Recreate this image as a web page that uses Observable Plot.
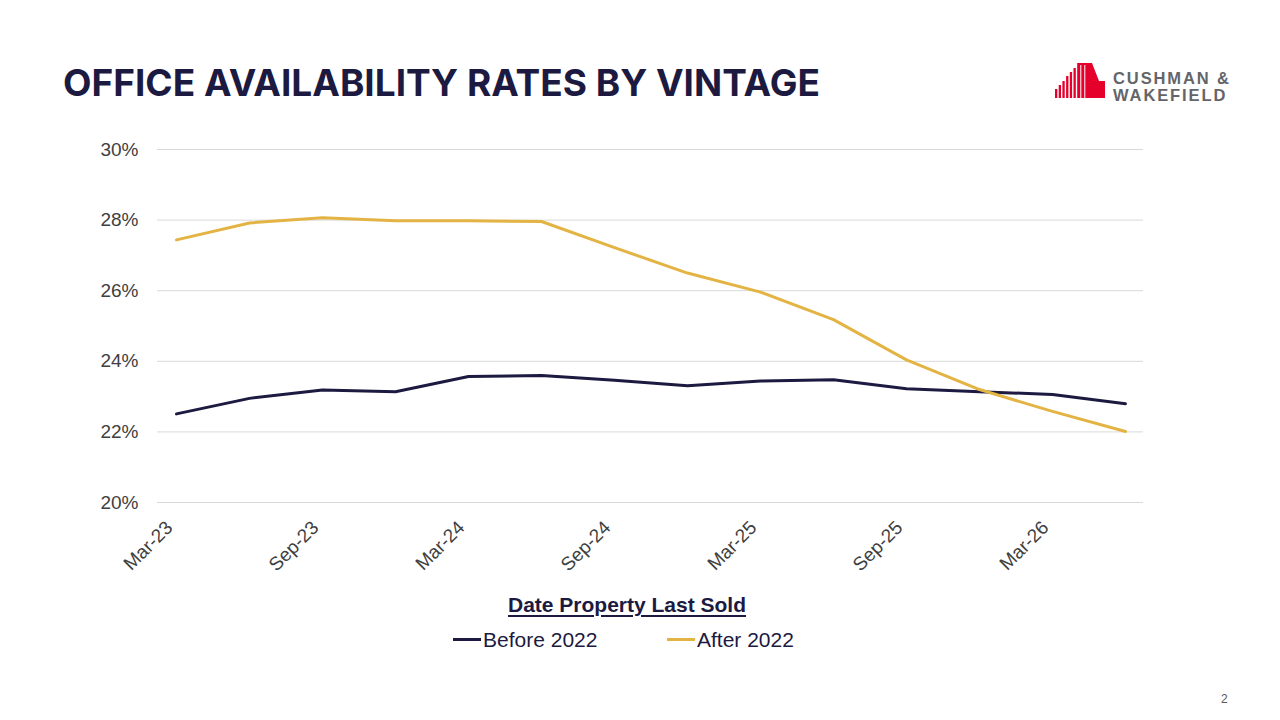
<!DOCTYPE html>
<html>
<head>
<meta charset="utf-8">
<script src="https://cdn.jsdelivr.net/npm/d3@7"></script>
<script src="https://cdn.jsdelivr.net/npm/@observablehq/plot@0.6"></script>
<style>
  html, body { margin: 0; padding: 0; background: #fff; }
  #page { position: relative; width: 1280px; height: 720px; overflow: hidden; font-family: "Liberation Sans", Arial, sans-serif; }
  #title { position: absolute; left: 63px; top: 64px; margin: 0; font-family: Inter, "Open Sans", sans-serif; font-weight: 700; font-size: 37px; letter-spacing: 0px; color: #1c1a40; white-space: nowrap; line-height: 1; }
  #chart { position: absolute; left: 0; top: 0; }
  #logo { position: absolute; left: 1054px; top: 62px; width: 190px; height: 42px; }
  #logo svg { position: absolute; left: 0; top: 0; }
  #logo .name { position: absolute; left: 59px; font-family: "Liberation Sans", Arial, sans-serif; font-weight: 700; font-size: 16.5px; letter-spacing: 1.9px; color: #646569; line-height: 16px; white-space: nowrap; }
  #legendTitle { position: absolute; left: 0; width: 1254px; top: 593px; text-align: center; font-weight: 700; font-size: 21px; color: #1c1a40; text-decoration: underline; text-underline-offset: 3px; line-height: 1.1; }
  .item { position: absolute; top: 629px; font-size: 21px; color: #1c1a40; white-space: nowrap; line-height: 1; }
  .item .sw { display: inline-block; width: 28px; height: 3px; vertical-align: middle; margin-right: 2px; position: relative; top: -2px; }
  #pageNo { position: absolute; left: 1221px; top: 692px; font-size: 12px; color: #595959; }
</style>
</head>
<body>
<div id="page">
  <div id="chart"></div>
  <h1 id="title">OFFICE AVAILABILITY RATES BY VINTAGE</h1>
  <div id="logo">
    <svg width="54" height="40" viewBox="0 0 54 40">
      <g fill="#e4002b">
        <rect x="1" y="27" width="2.3" height="9"></rect>
        <rect x="4.7" y="23" width="2.3" height="13"></rect>
        <rect x="8.4" y="19" width="2.3" height="17"></rect>
        <rect x="12.1" y="14" width="2.3" height="22"></rect>
        <rect x="15.8" y="10" width="2.3" height="26"></rect>
        <rect x="19.5" y="6" width="2.3" height="30"></rect>
        <polygon points="23.2,1 38,1 45,19 51,19 51,36 23.2,36"></polygon>
      </g>
      <g fill="#fff">
        <rect x="26.3" y="3" width="1" height="33"></rect>
        <rect x="30.3" y="3" width="1" height="33"></rect>
      </g>
    </svg>
    <div class="name" style="top:8px">CUSHMAN &amp;</div>
    <div class="name" style="top:25px">WAKEFIELD</div>
  </div>
  <div id="legendTitle">Date Property Last Sold</div>
  <div class="item" style="left:453px"><span class="sw" style="background:#1c1a40"></span>Before 2022</div>
  <div class="item" style="left:667px"><span class="sw" style="background:#e3b443"></span>After 2022</div>
  <div id="pageNo">2</div>
</div>
<script>
// Quarter-end labels along the x axis
const quarters = ["Mar-23", "Jun-23", "Sep-23", "Dec-23", "Mar-24", "Jun-24", "Sep-24",
                  "Dec-24", "Mar-25", "Jun-25", "Sep-25", "Dec-25", "Mar-26", "Jun-26"];
// Every other quarter carries a label
const xTickLabels = ["Mar-23", "Sep-23", "Mar-24", "Sep-24", "Mar-25", "Sep-25", "Mar-26"];
const yTicks = [20, 22, 24, 26, 28, 30];

const seriesNames = ["Before 2022", "After 2022"];
const seriesColors = ["#1c1a40", "#e3b443"];

// Availability rate (%) by date the property last sold
const before2022 = [22.51, 22.95, 23.19, 23.14, 23.57, 23.60, 23.46, 23.31, 23.44, 23.48, 23.22, 23.14, 23.06, 22.80];
const after2022  = [27.44, 27.92, 28.07, 27.98, 27.98, 27.96, 27.22, 26.50, 25.96, 25.18, 24.04, 23.20, 22.58, 22.01];

const rows = [
  ...quarters.map((q, i) => ({quarter: q, value: before2022[i], series: seriesNames[0]})),
  ...quarters.map((q, i) => ({quarter: q, value: after2022[i], series: seriesNames[1]}))
];

const chart = Plot.plot({
  width: 1280,
  height: 600,
  marginTop: 149,
  marginBottom: 98,
  marginLeft: 157,
  marginRight: 137,
  style: {fontFamily: "'Liberation Sans', Arial, sans-serif", fontSize: "19px", color: "#404040", background: "transparent"},
  x: {type: "point", domain: quarters, padding: 0.17, label: null},
  y: {domain: [20, 30], label: null},
  color: {domain: seriesNames, range: seriesColors},
  marks: [
    Plot.gridY(yTicks, {stroke: "#d9d9d9", strokeOpacity: 1, strokeWidth: 1}),
    Plot.axisY(yTicks, {tickSize: 0, tickPadding: 19, tickFormat: d => d + "%", fontSize: 19, fill: "#404040", label: null}),
    Plot.axisX(xTickLabels, {tickSize: 0, tickPadding: 22, tickRotate: -45, fontSize: 19, fill: "#404040", label: null, dx: -7}),
    Plot.line(rows, {x: "quarter", y: "value", z: "series", stroke: "series", strokeWidth: 3, strokeLinejoin: "round"})
  ]
});
document.getElementById("chart").appendChild(chart);
</script>
</body>
</html>
